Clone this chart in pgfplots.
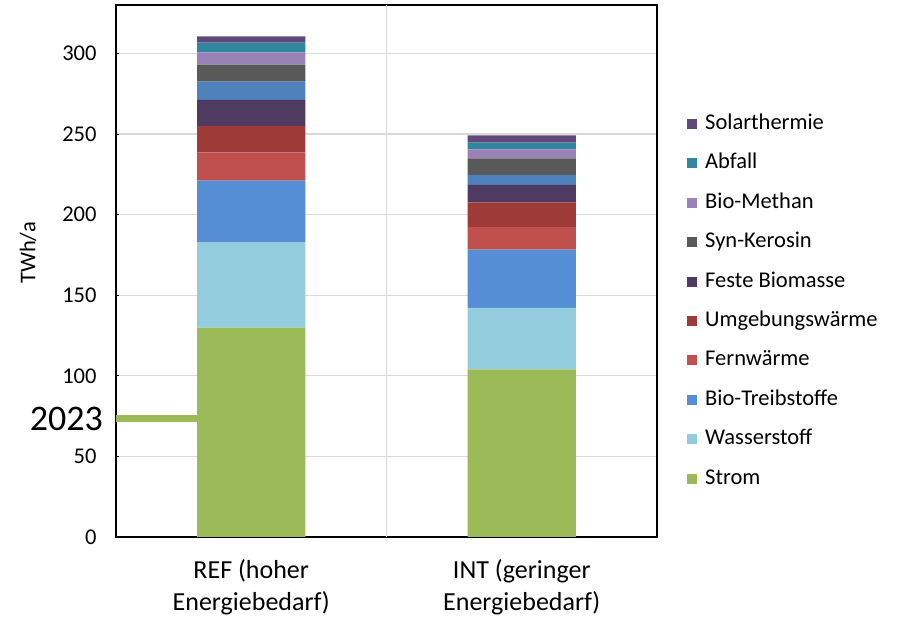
\documentclass[border=0pt]{standalone}
\usepackage{fontspec}
\setmainfont{Carlito}
\usepackage{pgfplots}
\pgfplotsset{compat=1.18}
\definecolor{cStrom}{HTML}{9BBB59}
\definecolor{cWasser}{HTML}{93CDDD}
\definecolor{cBioT}{HTML}{558ED5}
\definecolor{cFern}{HTML}{C0504D}
\definecolor{cUmg}{HTML}{9E3B38}
\definecolor{cFeste}{HTML}{4F3B62}
\definecolor{cBlue}{HTML}{4F81BD}
\definecolor{cSyn}{HTML}{595959}
\definecolor{cBioM}{HTML}{9A82B8}
\definecolor{cAbfall}{HTML}{31859C}
\definecolor{cSolar}{HTML}{604A7B}
\definecolor{cGrid}{HTML}{D9D9D9}
\begin{document}
\begin{tikzpicture}
\path[use as bounding box] (-116pt,-81pt) rectangle (781pt,537pt);
\begin{axis}[
  at={(0,0)}, anchor=south west,
  scale only axis, width=541pt, height=532pt,
  ybar stacked, bar width=0.4,
  xmin=-0.5, xmax=1.5, ymin=0, ymax=330,
  xtick={0,1},
  xticklabels={{REF (hoher\\Energiebedarf)},{INT (geringer\\Energiebedarf)}},
  xticklabel style={align=center, font=\fontsize{26}{31.7}\selectfont, yshift=-19pt},
  xtick style={draw=none},
  extra x ticks={0.5}, extra x tick labels={},
  extra x tick style={grid=major, major grid style={cGrid, line width=1.2pt}, tick style={draw=none}},
  ytick={0,50,...,300},
  tick pos=left,
  major tick length=3pt,
  tick align=inside,
  ytick style={black, line width=0.8pt},
  yticklabel style={font=\fontsize{22.5}{27}\selectfont, xshift=-16pt},
  /pgf/number format/assume math mode=true,
  ymajorgrids, major grid style={cGrid, line width=1.2pt},
  axis line style={black, line width=1.5pt},
  ylabel={TWh/a},
  every axis y label/.style={at={(axis description cs:0,0.534)}, xshift=-88pt, rotate=90, anchor=center, font=\fontsize{22.5}{27}\selectfont},
  legend style={draw=none, fill=none, at={(axis description cs:1,0.443)}, anchor=west, xshift=30pt,
    font=\fontsize{22.5}{27}\selectfont, inner sep=0pt, row sep=16.4pt, column sep=7pt,
    nodes={inner sep=1pt, text height=16pt, text depth=5pt}},
  legend cell align=left,
  reverse legend,
  legend image code/.code={\fill[#1, draw=none] (0pt,-5pt) rectangle (10pt,5pt);},
]
\addplot[fill=cStrom, draw=none] coordinates {(0,129.8) (1,103.9)};
\addlegendentry{Strom}
\addplot[fill=cWasser, draw=none] coordinates {(0,53.1) (1,38.3)};
\addlegendentry{Wasserstoff}
\addplot[fill=cBioT, draw=none] coordinates {(0,38.1) (1,36.1)};
\addlegendentry{Bio-Treibstoffe}
\addplot[fill=cFern, draw=none] coordinates {(0,17.6) (1,13.9)};
\addlegendentry{Fernwärme}
\addplot[fill=cUmg, draw=none] coordinates {(0,16.4) (1,15.3)};
\addlegendentry{Umgebungswärme}
\addplot[fill=cFeste, draw=none] coordinates {(0,16.1) (1,10.9)};
\addlegendentry{Feste Biomasse}
\addplot[fill=cBlue, draw=none, forget plot] coordinates {(0,11.4) (1,6.2)};
\addplot[fill=cSyn, draw=none] coordinates {(0,10.5) (1,10.3)};
\addlegendentry{Syn-Kerosin}
\addplot[fill=cBioM, draw=none] coordinates {(0,7.6) (1,5.6)};
\addlegendentry{Bio-Methan}
\addplot[fill=cAbfall, draw=none] coordinates {(0,6.0) (1,4.2)};
\addlegendentry{Abfall}
\addplot[fill=cSolar, draw=none] coordinates {(0,3.9) (1,4.5)};
\addlegendentry{Solarthermie}
\end{axis}
\begin{axis}[
  at={(0,0)}, anchor=south west,
  scale only axis, width=541pt, height=532pt,
  xmin=-0.5, xmax=1.5, ymin=0, ymax=330,
  axis lines=none, clip=false,
]
\addplot[cStrom, line width=7pt, line cap=butt] coordinates {(-0.5,73.5) (-0.2,73.5)};
\node[anchor=east, font=\fontsize{36}{43}\selectfont, inner sep=0pt] at (axis cs:-0.5,73.5) [xshift=-13pt] {2023};
\end{axis}
\end{tikzpicture}
\end{document}
